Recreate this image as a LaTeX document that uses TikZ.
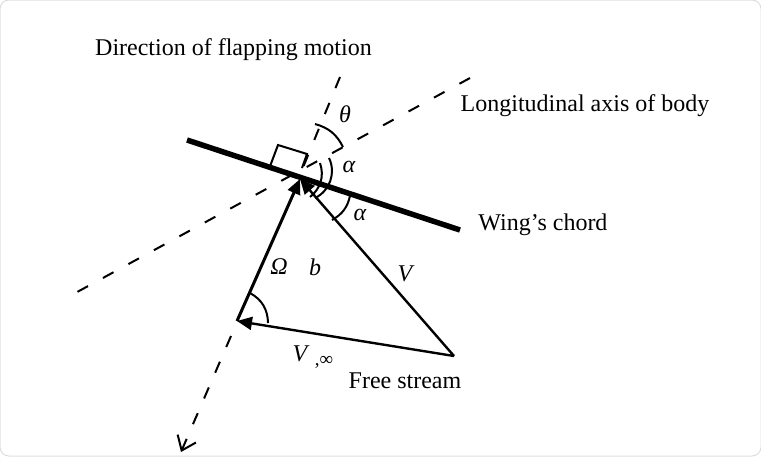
\documentclass[tikz,border=0pt]{standalone}
\usepackage{fontspec}
\setmainfont{Liberation Serif}
\usetikzlibrary{arrows.meta,positioning}

\begin{document}
\begin{tikzpicture}[x=1pt,y=-1pt,line width=2pt,
    lbl/.style={font=\fontsize{24}{28}\selectfont,inner sep=0pt},
    sym/.style={font=\fontsize{24}{28}\selectfont\itshape,inner sep=0pt},
    vec/.style={-{Triangle[length=15pt,width=13pt]}},
    dash1/.style={dash pattern=on 12pt off 16pt}]
        \useasboundingbox (0,0) rectangle (761,456);
        \draw [rounded corners=9pt,line width=1pt,black!13] (0,0) rectangle (761,456);
        % points of the triangle
        \coordinate (apex) at (300,179);
        \coordinate (flap) at (237,321);
        \coordinate (free) at (454,356);
        \coordinate (chordA) at (187,140);
        \coordinate (chordB) at (460,230);
        % axes
        \coordinate (upA) at (340,77);
        \coordinate (upB) at (302,170);
        \coordinate (downA) at (231,336);
        \coordinate (downB) at (181,452);
        \coordinate (bodyA) at (68,297);
        \coordinate (bodyB) at (470,78);
        \draw [dash1] (upA) -- (upB);
        \draw [dash1,-{Straight Barb[length=13pt,width=20pt]}] (downA) -- (downB);
        \draw [dash pattern=on 12pt off 17pt] (bodyB) -- (bodyA);
        \draw [line width=5.5pt] (chordA) -- (chordB);
        % velocities
        \draw [vec,line width=3pt] (flap) -- (apex);
        \draw [vec,line width=2.4pt] (free) -- (apex);
        \draw [vec,line width=2.4pt] (free) -- (flap);
        % right angle
        \coordinate (rA) at (269,169);
        \coordinate (rB) at (278,145);
        \coordinate (rC) at (307,154);
        \coordinate (rD) at (302,168);
        \draw (rA) -- (rB) -- (rC) -- (rD);
        % arcs
        \coordinate (thA) at (315,124);
        \coordinate (thB) at (343,147);
        \coordinate (outA) at (329,158);
        \coordinate (outB) at (315,198);
        \coordinate (inA) at (320,163);
        \coordinate (inB) at (310,197);
        \coordinate (lowA) at (350,196);
        \coordinate (lowB) at (332,220);
        \coordinate (flA) at (250,293);
        \coordinate (flB) at (268,323);
        \draw (thA) to [bend left=24] (thB);
        \draw (outA) to [bend left=45] (outB);
        \draw (inA) to [bend left=35] (inB);
        \draw (lowA) to [bend left=24] (lowB);
        \draw (flA) to [bend left=30] (flB);
        % labels
        \node [lbl] (dirlabel) at (233.5,50) {Direction of flapping motion};
        \node [lbl] (bodylabel) at (585,106) {Longitudinal axis of body};
        \node [lbl] (winglabel) at (543,225) {Wing’s chord};
        \node [lbl] (freelabel) at (405,381) {Free stream};
        \node [sym] (theta) at (345,114) {θ};
        \node [sym] (alphaup) at (349,167) {α};
        \node [sym] (alphalow) at (360,215) {α};
        \node [sym] (omega) at (279,267) {Ω};
        \node [sym] (blabel) at (315,267) {b};
        \node [sym] (vlabel) at (405,274) {V};
        \node [sym] (vinf) at (300,354) {V};
        \node [lbl,font=\fontsize{19}{22}\selectfont] (inf) at (324,362) {,∞};
    \end{tikzpicture}
\end{document}
